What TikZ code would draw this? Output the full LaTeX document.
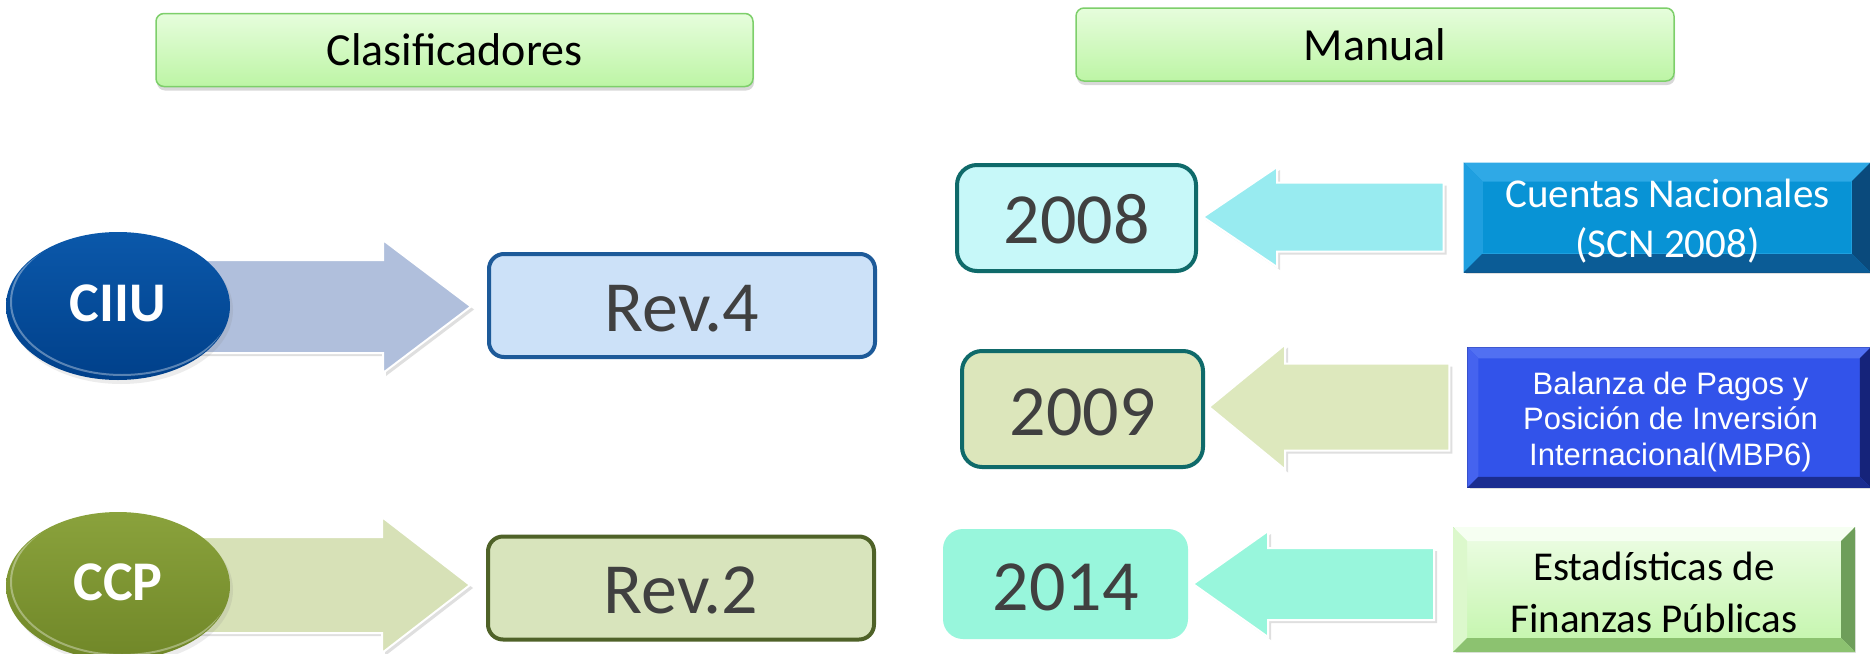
\documentclass[tikz,border=0pt]{standalone}
\usepackage{fontspec}
\setmainfont{Carlito}
\newfontfamily\arialf{Liberation Sans}
\usetikzlibrary{shapes.geometric,shadows,calc,backgrounds}

\definecolor{hdrTop}{HTML}{E6FDDC}
\definecolor{hdrBot}{HTML}{BDF5A5}
\definecolor{hdrBorder}{HTML}{7DCF6A}
\definecolor{ciiuTop}{HTML}{0B58AA}
\definecolor{ciiuBot}{HTML}{00408A}
\definecolor{ccpTop}{HTML}{8AA23C}
\definecolor{ccpBot}{HTML}{708728}
\definecolor{arrCiiu}{HTML}{B0BFDC}
\definecolor{arrCcp}{HTML}{D7E1B7}
\definecolor{revFourFill}{HTML}{CCE1F8}
\definecolor{revFourDraw}{HTML}{1D5A99}
\definecolor{revTwoFill}{HTML}{D8E4BC}
\definecolor{revTwoDraw}{HTML}{4F6228}
\definecolor{yrDraw}{HTML}{0F6A6A}
\definecolor{yrAFill}{HTML}{C7F8F9}
\definecolor{arrA}{HTML}{98EBF0}
\definecolor{yrBFill}{HTML}{DCE6BB}
\definecolor{arrB}{HTML}{DDE8BD}
\definecolor{yrCFill}{HTML}{98F6DC}
\definecolor{arrC}{HTML}{98F6DC}
\definecolor{cnMain}{HTML}{0893D5}
\definecolor{cnTop}{HTML}{2FA9E6}
\definecolor{cnLeft}{HTML}{1F9FE0}
\definecolor{cnRight}{HTML}{0A4A7C}
\definecolor{cnBot}{HTML}{0B5C96}
\definecolor{cnBorder}{HTML}{12507F}
\definecolor{mbMain}{HTML}{3253EA}
\definecolor{mbTop}{HTML}{5170F2}
\definecolor{mbLeft}{HTML}{4563EF}
\definecolor{mbRight}{HTML}{15237A}
\definecolor{mbBot}{HTML}{1B2D90}
\definecolor{efTop}{HTML}{EEFDE6}
\definecolor{efBot}{HTML}{C2F5AA}
\definecolor{efBTop}{HTML}{F6FFF2}
\definecolor{efBLeft}{HTML}{DCF8CC}
\definecolor{efBRight}{HTML}{6E9E5A}
\definecolor{efBBot}{HTML}{8CC270}
\definecolor{efBorder}{HTML}{6FC758}
\definecolor{numGray}{HTML}{404040}

% block arrow: #1 style, #2 tail point, #3 tip point, #4 body half-height, #5 head half-height, #6 head length
\newcommand\blockarr[6]{%
  \path[#1] let \p1=#2, \p2=#3, \n1={sign(\x2-\x1)} in
    (\x1,\y2+#4) -- (\x2-\n1*#6,\y2+#4) -- (\x2-\n1*#6,\y2+#5) -- (\x2,\y2)
    -- (\x2-\n1*#6,\y2-#5) -- (\x2-\n1*#6,\y2-#4) -- (\x1,\y2-#4) -- cycle;}

% bevel frame: #1 node, #2 width, #3 top, #4 left, #5 right, #6 bottom
\newcommand\bevelframe[6]{%
  \fill[#3] (#1.north west) -- (#1.north east) -- ($(#1.north east)+(-#2,#2)$) -- ($(#1.north west)+(#2,#2)$) -- cycle;
  \fill[#4] (#1.north west) -- ($(#1.north west)+(#2,#2)$) -- ($(#1.south west)+(#2,-#2)$) -- (#1.south west) -- cycle;
  \fill[#5] (#1.north east) -- ($(#1.north east)+(-#2,#2)$) -- ($(#1.south east)+(-#2,-#2)$) -- (#1.south east) -- cycle;
  \fill[#6] (#1.south west) -- ($(#1.south west)+(#2,-#2)$) -- ($(#1.south east)+(-#2,-#2)$) -- (#1.south east) -- cycle;}

\tikzset{
  hdr/.style={rectangle, rounded corners=8pt, draw=hdrBorder, line width=1.5pt,
    top color=hdrTop, bottom color=hdrBot, minimum width=597pt, minimum height=73pt,
    inner sep=0pt, font=\fontsize{46}{55}\selectfont, text height=31pt, text depth=0pt,
    drop shadow={opacity=0.3, shadow xshift=1pt, shadow yshift=-4pt}},
  oval/.style={ellipse, minimum width=224pt, minimum height=148pt, inner sep=0pt,
    text=white, font=\bfseries\fontsize{56}{60}\selectfont, text depth=0pt,
    drop shadow={opacity=0.15, shadow xshift=3pt, shadow yshift=-4pt}},
  revbox/.style={rectangle, rounded corners=15pt, line width=4pt, minimum width=386pt,
    minimum height=103pt, inner sep=0pt, text=numGray,
    font=\fontsize{72}{80}\selectfont, text height=51pt, text depth=0pt},
  yrbox/.style={rectangle, rounded corners=20pt, line width=4pt, inner sep=0pt,
    text=numGray, font=\fontsize{72}{80}\selectfont, text depth=0pt},
  blk/.style={fill=#1, draw=white, line width=2pt,
    drop shadow={opacity=0.25, shadow xshift=3pt, shadow yshift=-3pt}},
  srcbox/.style={rectangle, inner sep=0pt},
  srctext/.style={inner sep=0pt, anchor=base, align=center},
  rim/.style={white, opacity=0.35, line width=2pt},
}

\begin{document}
\begin{tikzpicture}[x=1pt, y=-1pt]
\useasboundingbox (0,0) rectangle (1870,653);

% headers
\node[hdr] (clas) at (454.5,50) {Clasificadores};
\node[hdr, minimum width=598pt, text height=32pt] (manual) at (1375,44.5) {Manual};

% left column
\node[oval, top color=ciiuTop, bottom color=ciiuBot, text height=31pt] (ciiu) at (118,306) {CIIU};
\node[oval, top color=ccpTop, bottom color=ccpBot, text height=28pt] (ccp) at (118,586) {CCP};
\node[revbox, fill=revFourFill, draw=revFourDraw] (rev4) at (682,305.5) {Rev.4};
\node[revbox, fill=revTwoFill, draw=revTwoDraw] (rev2) at (681,588) {Rev.2};

% year boxes
\node[yrbox, fill=yrAFill, draw=yrDraw, minimum width=239pt, minimum height=106pt, text height=50pt] (y2008) at (1076.5,218) {2008};
\node[yrbox, fill=yrBFill, draw=yrDraw, minimum width=241pt, minimum height=116pt, text height=52pt] (y2009) at (1082.5,409) {2009};
\node[yrbox, fill=yrCFill, draw=none, minimum width=245pt, minimum height=110pt, text height=52pt] (y2014) at (1065.5,584) {2014};

% source boxes
\node[srcbox, fill=cnMain, draw=cnBorder, line width=1pt, minimum width=406pt, minimum height=109pt,
  drop shadow={opacity=0.25, shadow xshift=2pt, shadow yshift=-2pt}] (cn) at (1667,217.5) {};
\bevelframe{cn}{19}{cnTop}{cnLeft}{cnRight}{cnBot}
\draw[cnTop!60!cnMain, line width=1pt] ($(cn.north west)+(19,19)$) rectangle ($(cn.south east)+(-19,-19)$);
\node[srctext, text=white, font=\fontsize{41}{50}\selectfont] (cnt) at (1667.5,257) {Cuentas Nacionales\\(SCN 2008)};

\node[srcbox, fill=mbMain, draw=mbBot, line width=1.5pt, minimum width=402pt, minimum height=139pt,
  drop shadow={opacity=0.25, shadow xshift=2pt, shadow yshift=-2pt}] (mb) at (1669,417.5) {};
\bevelframe{mb}{11}{mbTop}{mbLeft}{mbRight}{mbBot}
\node[srctext, text=white, font=\arialf\fontsize{31}{35.5}\selectfont] (mbt) at (1670.5,465) {Balanza de Pagos y\\Posición de Inversión\\Internacional(MBP6)};

\node[srcbox, top color=efTop, bottom color=efBot, draw=efBorder, line width=2pt, minimum width=400pt, minimum height=123pt,
  drop shadow={opacity=0.2, shadow xshift=2pt, shadow yshift=-2pt}] (ef) at (1654,589.5) {};
\bevelframe{ef}{14}{efBTop}{efBLeft}{efBRight}{efBBot}
\node[srctext, text=black, font=\fontsize{41}{52}\selectfont] (eft) at (1654,632) {Estadísticas de\\Finanzas Públicas};

% glossy rims on the ovals
\begin{scope}
  \clip (ciiu.center) ellipse [x radius=111, y radius=73];
  \draw[rim] ($(ciiu.center)+(4,-4)$) ellipse [x radius=111, y radius=73];
\end{scope}
\begin{scope}
  \clip (ccp.center) ellipse [x radius=111, y radius=73];
  \draw[rim] ($(ccp.center)+(4,-4)$) ellipse [x radius=111, y radius=73];
\end{scope}

% block arrows behind everything
\begin{scope}[on background layer]
  \fill[white] (0,0) rectangle (1870,653);
  \blockarr{blk=arrCiiu}{(ciiu.center)}{($(rev4.west)+(-16,1)$)}{46.5pt}{66.5pt}{88pt}
  \blockarr{blk=arrCcp}{(ccp.center)}{($(rev2.west)+(-16,-3)$)}{48pt}{68pt}{88pt}
  \blockarr{blk=arrA}{($(cn.west)+(-20,0)$)}{($(y2008.east)+(5,-1)$)}{34.5pt}{50pt}{74pt}
  \blockarr{blk=arrB}{($(mb.west)+(-18,0)$)}{($(y2009.east)+(4,-2)$)}{43.5pt}{62.5pt}{76pt}
  \blockarr{blk=arrC}{($(ef.west)+(-19,0)$)}{($(y2014.east)+(3,0)$)}{36pt}{53pt}{75pt}
\end{scope}
\end{tikzpicture}
\end{document}
